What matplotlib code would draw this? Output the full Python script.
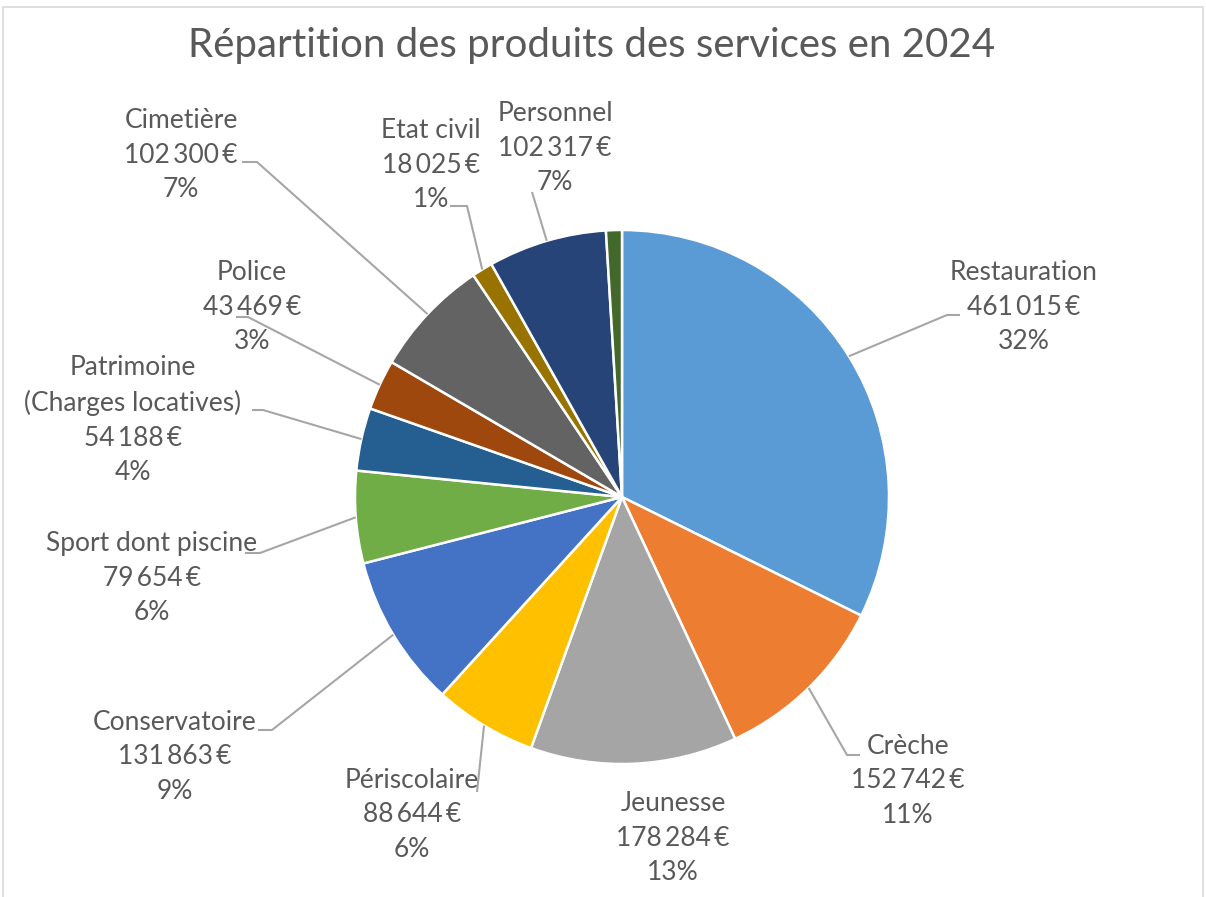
import numpy as np
import matplotlib.pyplot as plt
from matplotlib.patches import Rectangle

W, H = 1206, 897

# --- data ------------------------------------------------------------------
categories = [
    "Restauration", "Crèche", "Jeunesse", "Périscolaire", "Conservatoire",
    "Sport dont piscine", "Patrimoine\n(Charges locatives)", "Police",
    "Cimetière", "Etat civil", "Personnel", "",
]
values = [461015, 152742, 178284, 88644, 131863, 79654, 54188, 43469,
          102300, 18025, 102317, 13700]
colors = ["#5B9BD5", "#ED7D31", "#A5A5A5", "#FFC000", "#4472C4", "#70AD47",
          "#255E91", "#9E480E", "#636363", "#997300", "#264478", "#43682B"]

# --- layout (image pixel coords, y down) -----------------------------------
CENTER = (622, 497)
RADIUS = 267
label_pos = [(1024, 307), (908, 781), (673, 838), (412, 815), (175, 757),
             (152, 578), (133, 420), (252, 307), (181, 155), (431, 165),
             (555, 148), None]
leaders = [
    [(947, 315), (960, 315)],
    [(847, 755), (860, 755)],
    None,
    [(477, 792)],
    [(272, 730), (258, 730)],
    [(260, 553), (245, 553)],
    [(263, 410), (252, 410)],
    [(248, 317), (236, 317)],
    [(257, 162), (242, 162)],
    [(467, 206), (450, 206)],
    [(532, 192)],
    None,
]

TEXT_COLOR = "#595959"
LINE_COLOR = "#A6A6A6"
FONT = ["Lato", "DejaVu Sans"]


def px(p):
    return p[0], H - p[1]


def fmt_eur(v):
    return f"{v:,}".replace(",", "\u2009") + "\u2009€"


fig = plt.figure(figsize=(W / 100, H / 100), dpi=100)
ax = fig.add_axes([0, 0, 1, 1])

# chart frame
ax.add_patch(Rectangle((3, -5), W - 6, H - 2, fill=False,
                       edgecolor="#D9D9D9", linewidth=1.2))

wedges, _ = ax.pie(
    values, colors=colors, startangle=90, counterclock=False,
    center=px(CENTER), radius=RADIUS, frame=True,
    wedgeprops=dict(edgecolor="white", linewidth=1.8),
)
ax.set_xlim(0, W)
ax.set_ylim(0, H)
ax.set_aspect("equal")
ax.axis("off")

total = sum(values)
cx, cy = px(CENTER)
for w, name, v, pos, lead in zip(wedges, categories, values, label_pos, leaders):
    if pos is None:
        continue
    pct = int(v / total * 100 + 0.5)
    ax.text(*px(pos), f"{name}\n{fmt_eur(v)}\n{pct}%", ha="center", va="center",
            fontsize=19, color=TEXT_COLOR, family=FONT, linespacing=1.48)
    if lead:
        mid = np.deg2rad((w.theta1 + w.theta2) / 2)
        pts = [(cx + RADIUS * np.cos(mid), cy + RADIUS * np.sin(mid))]
        pts += [px(p) for p in lead]
        xs, ys = zip(*pts)
        ax.plot(xs, ys, color=LINE_COLOR, linewidth=1.5, solid_capstyle="butt")

ax.text(592, H - 45, "Répartition des produits des services en 2024",
        ha="center", va="center", fontsize=29, color=TEXT_COLOR, family=FONT)

fig.savefig("out.png", dpi=100, facecolor="white")
